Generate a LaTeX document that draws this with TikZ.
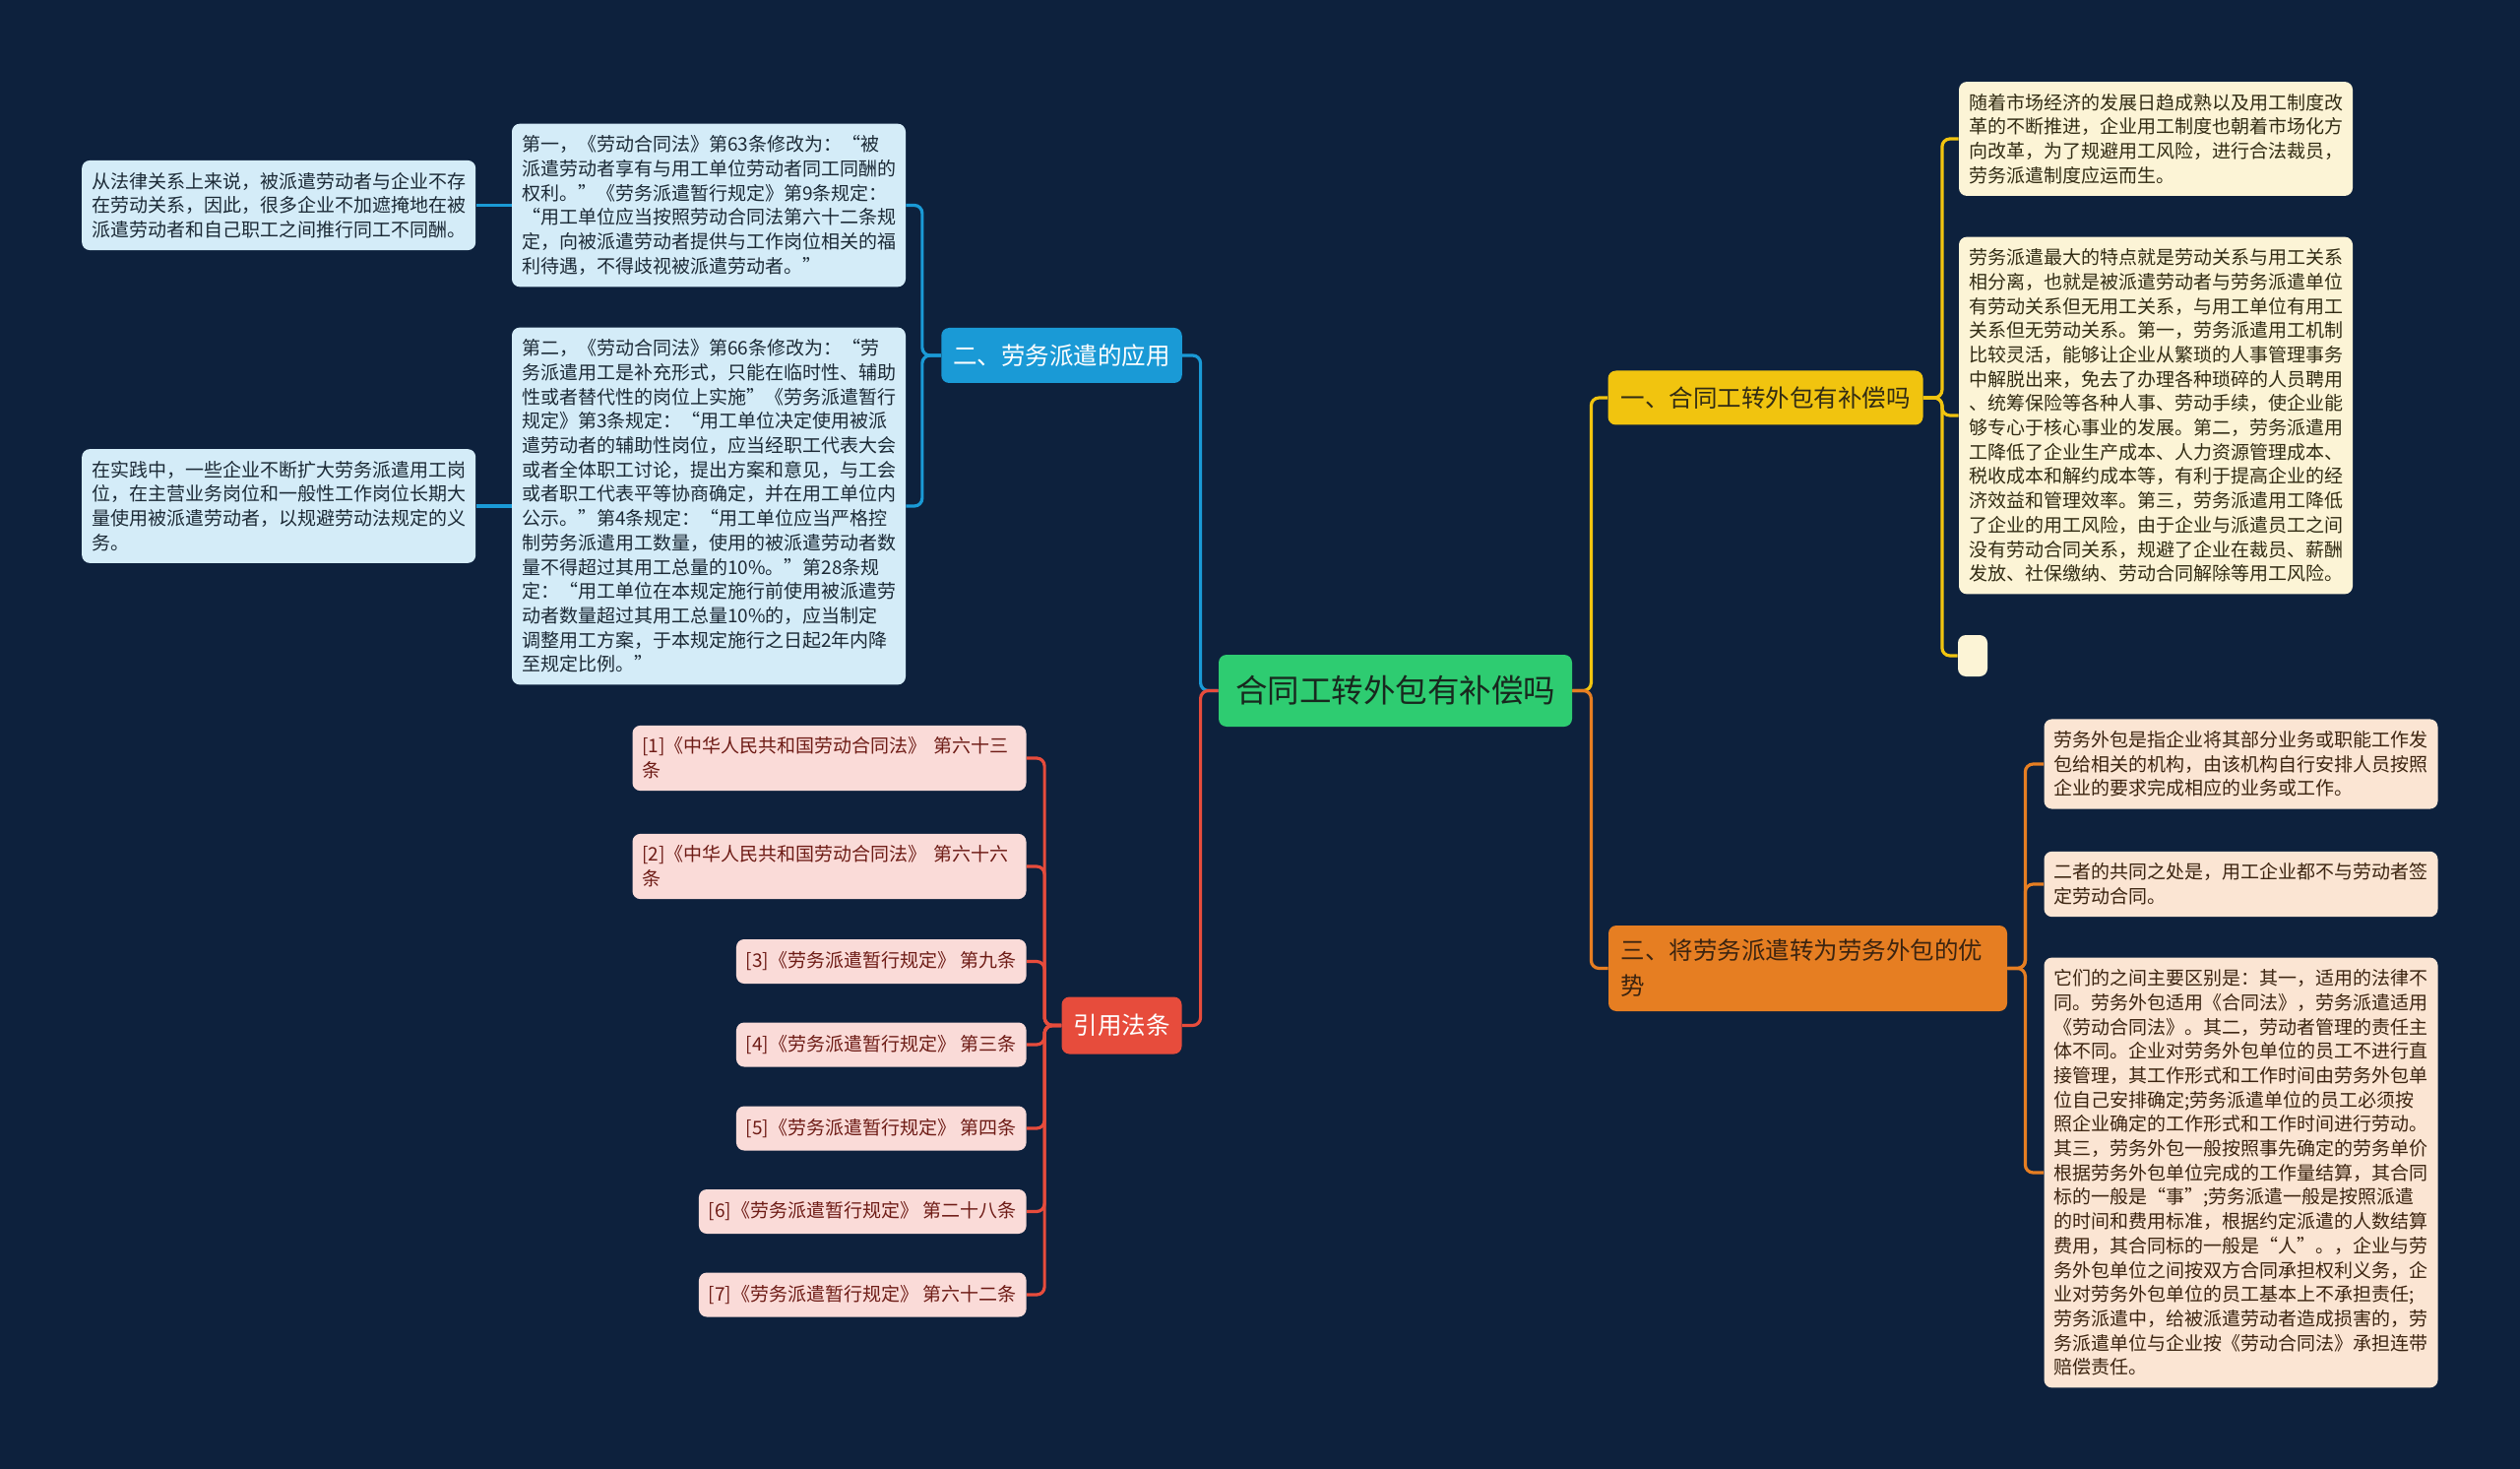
\documentclass[tikz,border=0pt]{standalone}
\usepackage{fontspec}
\setmainfont{Noto Sans CJK SC}
\usetikzlibrary{positioning}

\definecolor{bg}{RGB}{13,33,61}
\definecolor{rootgreen}{RGB}{46,204,113}
\definecolor{rootink}{RGB}{24,40,30}
\definecolor{ybranch}{RGB}{241,196,15}
\definecolor{obranch}{RGB}{230,126,34}
\definecolor{bbranch}{RGB}{26,154,214}
\definecolor{rbranch}{RGB}{231,76,60}
\definecolor{yleaf}{RGB}{252,244,214}
\definecolor{oleaf}{RGB}{251,229,211}
\definecolor{bleaf}{RGB}{212,236,248}
\definecolor{rleaf}{RGB}{250,219,216}
\definecolor{yink}{RGB}{50,44,20}
\definecolor{oink}{RGB}{60,36,16}
\definecolor{bink}{RGB}{28,42,54}
\definecolor{rink}{RGB}{110,28,22}

\begin{document}
\begin{tikzpicture}[x=0.5pt, y=-0.5pt,
      main/.style = {fill=rootgreen, text=rootink, rounded corners=4pt,
        font=\fontsize{16.25}{20}\selectfont, minimum width=179.5pt, minimum height=36.5pt},
      branch/.style = {rounded corners=4pt, font=\fontsize{12.25}{18}\selectfont,
        inner xsep=6pt, minimum height=27.5pt},
      leaf/.style = {rounded corners=4pt, font=\fontsize{9.5}{12.35}\selectfont,
        align=left, inner xsep=5pt, inner ysep=6pt},
      wide/.style = {leaf, text width=190pt},
      link/.style = {line width=1.6pt, rounded corners=4pt}]
      \fill[bg] (0,0) rectangle (2560,1492);
      \useasboundingbox (0,0) rectangle (2560,1492);

      \node[main] (0) at (1417.5,701.5) {合同工转外包有补偿吗};
      \node[branch, fill=ybranch, text=yink, minimum width=160pt] (1) at (1793.5,404) {一、合同工转外包有补偿吗};
      \node[branch, fill=bbranch, text=white, minimum width=122pt, minimum height=28pt] (2) at (1078.5,361) {二、劳务派遣的应用};
      \node[branch, fill=obranch, text=oink, text width=190pt, align=left, inner xsep=6.25pt,
        minimum height=43.5pt] (3) at (1836.5,983.5) {三、将劳务派遣转为劳务外包的优\\势};
      \node[branch, fill=rbranch, text=white, minimum width=61pt, minimum height=29pt] (4) at (1139.5,1041.5) {引用法条};

      \node[wide, fill=yleaf, text=yink] (11) at (2190,141) {随着市场经济的发展日趋成熟以及用工制度改\\革的不断推进，企业用工制度也朝着市场化方\\向改革，为了规避用工风险，进行合法裁员，\\劳务派遣制度应运而生。};
      \node[wide, fill=yleaf, text=yink] (12) at (2190,422) {劳务派遣最大的特点就是劳动关系与用工关系\\相分离，也就是被派遣劳动者与劳务派遣单位\\有劳动关系但无用工关系，与用工单位有用工\\关系但无劳动关系。第一，劳务派遣用工机制\\比较灵活，能够让企业从繁琐的人事管理事务\\中解脱出来，免去了办理各种琐碎的人员聘用\\、统筹保险等各种人事、劳动手续，使企业能\\够专心于核心事业的发展。第二，劳务派遣用\\工降低了企业生产成本、人力资源管理成本、\\税收成本和解约成本等，有利于提高企业的经\\济效益和管理效率。第三，劳务派遣用工降低\\了企业的用工风险，由于企业与派遣员工之间\\没有劳动合同关系，规避了企业在裁员、薪酬\\发放、社保缴纳、劳动合同解除等用工风险。};
      \node[leaf, fill=yleaf, minimum width=15pt, minimum height=21pt] (13) at (2004,666) {};

      \node[wide, fill=bleaf, text=bink] (21) at (720,208.5) {第一，《劳动合同法》第63条修改为：“被\\派遣劳动者享有与用工单位劳动者同工同酬的\\权利。”《劳务派遣暂行规定》第9条规定：\\“用工单位应当按照劳动合同法第六十二条规\\定，向被派遣劳动者提供与工作岗位相关的福\\利待遇，不得歧视被派遣劳动者。”};
      \node[wide, fill=bleaf, text=bink] (22) at (720,514) {第二，《劳动合同法》第66条修改为：“劳\\务派遣用工是补充形式，只能在临时性、辅助\\性或者替代性的岗位上实施”《劳务派遣暂行\\规定》第3条规定：“用工单位决定使用被派\\遣劳动者的辅助性岗位，应当经职工代表大会\\或者全体职工讨论，提出方案和意见，与工会\\或者职工代表平等协商确定，并在用工单位内\\公示。”第4条规定：“用工单位应当严格控\\制劳务派遣用工数量，使用的被派遣劳动者数\\量不得超过其用工总量的10\%。”第28条规\\定：“用工单位在本规定施行前使用被派遣劳\\动者数量超过其用工总量10\%的，应当制定\\调整用工方案，于本规定施行之日起2年内降\\至规定比例。”};
      \node[wide, fill=bleaf, text=bink] (211) [left=18pt of 21] {从法律关系上来说，被派遣劳动者与企业不存\\在劳动关系，因此，很多企业不加遮掩地在被\\派遣劳动者和自己职工之间推行同工不同酬。};
      \node[wide, fill=bleaf, text=bink] (221) [left=18pt of 22] {在实践中，一些企业不断扩大劳务派遣用工岗\\位，在主营业务岗位和一般性工作岗位长期大\\量使用被派遣劳动者，以规避劳动法规定的义\\务。};

      \node[wide, fill=oleaf, text=oink] (31) at (2276.5,776) {劳务外包是指企业将其部分业务或职能工作发\\包给相关的机构，由该机构自行安排人员按照\\企业的要求完成相应的业务或工作。};
      \node[wide, fill=oleaf, text=oink] (32) at (2276.5,898) {二者的共同之处是，用工企业都不与劳动者签\\定劳动合同。};
      \node[wide, fill=oleaf, text=oink] (33) at (2276.5,1191) {它们的之间主要区别是：其一，适用的法律不\\同。劳务外包适用《合同法》，劳务派遣适用\\《劳动合同法》。其二，劳动者管理的责任主\\体不同。企业对劳务外包单位的员工不进行直\\接管理，其工作形式和工作时间由劳务外包单\\位自己安排确定;劳务派遣单位的员工必须按\\照企业确定的工作形式和工作时间进行劳动。\\其三，劳务外包一般按照事先确定的劳务单价\\根据劳务外包单位完成的工作量结算，其合同\\标的一般是“事”;劳务派遣一般是按照派遣\\的时间和费用标准，根据约定派遣的人数结算\\费用，其合同标的一般是“人”。，企业与劳\\务外包单位之间按双方合同承担权利义务，企\\业对劳务外包单位的员工基本上不承担责任;\\劳务派遣中，给被派遣劳动者造成损害的，劳\\务派遣单位与企业按《劳动合同法》承担连带\\赔偿责任。};

      \node[wide, fill=rleaf, text=rink] (41) at (842.5,770) {[1]《中华人民共和国劳动合同法》 第六十三\\条};
      \node[wide, fill=rleaf, text=rink] (42) at (842.5,880) {[2]《中华人民共和国劳动合同法》 第六十六\\条};
      \node[leaf, fill=rleaf, text=rink, anchor=east, minimum height=22.5pt] (43) at (1043,976.5) {[3]《劳务派遣暂行规定》 第九条};
      \node[leaf, fill=rleaf, text=rink, anchor=east, minimum height=22.5pt] (44) at (1043,1061) {[4]《劳务派遣暂行规定》 第三条};
      \node[leaf, fill=rleaf, text=rink, anchor=east, minimum height=22.5pt] (45) at (1043,1146) {[5]《劳务派遣暂行规定》 第四条};
      \node[leaf, fill=rleaf, text=rink, anchor=east, minimum height=22.5pt] (46) at (1043,1230.5) {[6]《劳务派遣暂行规定》 第二十八条};
      \node[leaf, fill=rleaf, text=rink, anchor=east, minimum height=22.5pt] (47) at (1043,1315) {[7]《劳务派遣暂行规定》 第六十二条};

      \draw[link, ybranch] (0.east) -- ++(9.5pt,0) |- (1.west);
      \draw[link, obranch] (0.east) -- ++(9.5pt,0) |- (3.west);
      \draw[link, bbranch] (0.west) -- ++(-9pt,0) |- (2.east);
      \draw[link, rbranch] (0.west) -- ++(-9pt,0) |- (4.east);

      \draw[link, ybranch] (1.east) -- ++(9.5pt,0) |- (11.west);
      \draw[link, ybranch] (1.east) -- ++(9.5pt,0) |- (12.west);
      \draw[link, ybranch] (1.east) -- ++(9.5pt,0) |- (13.west);

      \draw[link, bbranch] (2.west) -- ++(-9.5pt,0) |- (21.east);
      \draw[link, bbranch] (2.west) -- ++(-9.5pt,0) |- (22.east);
      \draw[link, bbranch] (21.west) -- (211.east);
      \draw[link, bbranch] (22.west) -- (221.east);

      \draw[link, obranch] (3.east) -- ++(9pt,0) |- (31.west);
      \draw[link, obranch] (3.east) -- ++(9pt,0) |- (32.west);
      \draw[link, obranch] (3.east) -- ++(9pt,0) |- (33.west);

      \draw[link, rbranch] (4.west) -- ++(-8.5pt,0) |- (41.east);
      \draw[link, rbranch] (4.west) -- ++(-8.5pt,0) |- (42.east);
      \draw[link, rbranch] (4.west) -- ++(-8.5pt,0) |- (43.east);
      \draw[link, rbranch] (4.west) -- ++(-8.5pt,0) |- (44.east);
      \draw[link, rbranch] (4.west) -- ++(-8.5pt,0) |- (45.east);
      \draw[link, rbranch] (4.west) -- ++(-8.5pt,0) |- (46.east);
      \draw[link, rbranch] (4.west) -- ++(-8.5pt,0) |- (47.east);
    \end{tikzpicture}
\end{document}
